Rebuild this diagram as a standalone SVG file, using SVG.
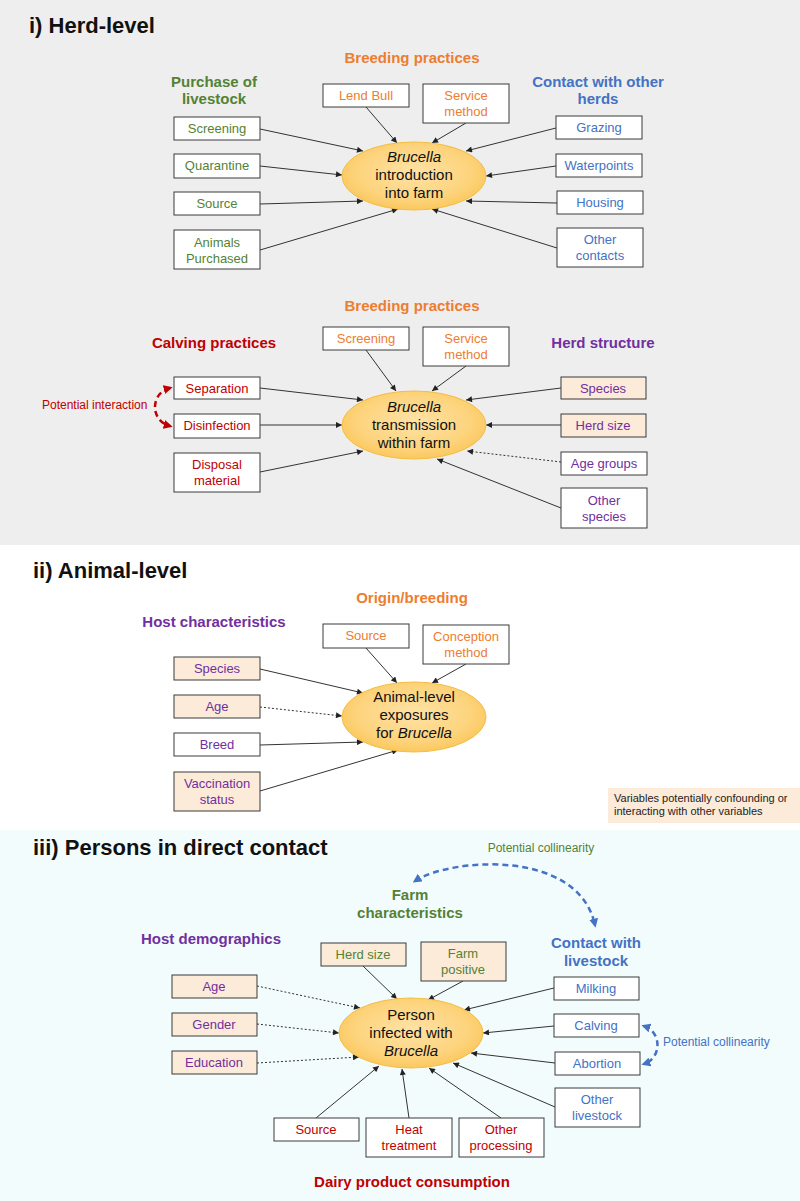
<svg xmlns="http://www.w3.org/2000/svg" width="800" height="1201" viewBox="0 0 800 1201">
<defs>
<radialGradient id="eg" cx="50%" cy="45%" r="55%">
<stop offset="0" stop-color="#FFE2A6"/>
<stop offset="0.7" stop-color="#FDD47E"/>
<stop offset="1" stop-color="#FBC85E"/>
</radialGradient>
<marker id="ah" viewBox="0 0 10 10" refX="10" refY="5" markerWidth="7" markerHeight="6" markerUnits="userSpaceOnUse" orient="auto"><path d="M0,0 L10,5 L0,10z" fill="#222"/></marker>
<marker id="ahr" viewBox="0 0 10 10" refX="7" refY="5" markerWidth="9" markerHeight="9" markerUnits="userSpaceOnUse" orient="auto-start-reverse"><path d="M0,0 L10,5 L0,10z" fill="#C00000"/></marker>
<marker id="ahb" viewBox="0 0 10 10" refX="7" refY="5" markerWidth="9" markerHeight="9" markerUnits="userSpaceOnUse" orient="auto-start-reverse"><path d="M0,0 L10,5 L0,10z" fill="#4472C4"/></marker>
<style>
text{font-family:"Liberation Sans",Arial,sans-serif;}
.title{font-size:22px;font-weight:bold;fill:#111;}
.hd{font-size:15px;font-weight:bold;text-anchor:middle;}
.bt{font-size:13px;text-anchor:middle;}
.et{font-size:15px;text-anchor:middle;fill:#111;}
.it{font-style:italic;}
.sm{font-size:12px;}
.box{fill:#fff;stroke:#3a3a3a;stroke-width:1;}
.boxb{fill:#FCEBD9;stroke:#3a3a3a;stroke-width:1;}
.ell{fill:url(#eg);stroke:#F3BE45;stroke-width:1;}
.or{fill:#ED7D31;}.gr{fill:#548235;}.bl{fill:#4472C4;}.rd{fill:#C00000;}.pu{fill:#7030A0;}
.c{stroke:#333;stroke-width:1;fill:none;marker-end:url(#ah);}
.d{stroke:#333;stroke-width:1;fill:none;stroke-dasharray:2,2;marker-end:url(#ah);}
.cr{stroke:#C00000;stroke-width:2.5;fill:none;stroke-dasharray:6,4;marker-start:url(#ahr);marker-end:url(#ahr);}
.cb{stroke:#4472C4;stroke-width:2.5;fill:none;stroke-dasharray:6,4;marker-start:url(#ahb);marker-end:url(#ahb);}
</style>
</defs>

<!-- backgrounds -->
<rect x="0" y="0" width="800" height="545" fill="#EEEEEE"/>
<rect x="0" y="545" width="800" height="285" fill="#FFFFFF"/>
<rect x="0" y="830" width="800" height="371" fill="#F3FCFD"/>

<!-- ===== Section i ===== -->
<text class="title" x="29" y="33">i) Herd-level</text>
<text class="hd or" x="412" y="63">Breeding practices</text>
<text class="hd gr" x="214" y="87">Purchase of</text>
<text class="hd gr" x="214" y="104">livestock</text>
<text class="hd bl" x="598" y="87">Contact with other</text>
<text class="hd bl" x="598" y="104">herds</text>

<g id="connectors">
<!-- i top -->
<line class="c" x1="366" y1="107" x2="397" y2="143"/>
<line class="c" x1="466" y1="123" x2="432" y2="143"/>
<line class="c" x1="260" y1="129" x2="363" y2="151"/>
<line class="c" x1="260" y1="166" x2="342" y2="175"/>
<line class="c" x1="260" y1="204" x2="363" y2="201"/>
<line class="c" x1="260" y1="250" x2="398" y2="209"/>
<line class="c" x1="556" y1="128" x2="466" y2="151"/>
<line class="c" x1="556" y1="166" x2="486" y2="176"/>
<line class="c" x1="557" y1="203" x2="466" y2="201"/>
<line class="c" x1="557" y1="248" x2="432" y2="209"/>
<!-- i bottom -->
<line class="c" x1="366" y1="350" x2="396" y2="391"/>
<line class="c" x1="466" y1="366" x2="432" y2="391"/>
<line class="c" x1="260" y1="388" x2="363" y2="400"/>
<line class="c" x1="260" y1="425" x2="342" y2="425"/>
<line class="c" x1="260" y1="472" x2="363" y2="451"/>
<line class="c" x1="561" y1="388" x2="466" y2="400"/>
<line class="c" x1="561" y1="425" x2="486" y2="425"/>
<line class="d" x1="561" y1="462" x2="467" y2="451"/>
<line class="c" x1="561" y1="508" x2="437" y2="459"/>
<path class="cr" d="M170,388 C150,393 150,421 170,426"/>
<!-- ii -->
<line class="c" x1="366" y1="648" x2="397" y2="683"/>
<line class="c" x1="466" y1="664" x2="432" y2="683"/>
<line class="c" x1="260" y1="669" x2="363" y2="693"/>
<line class="d" x1="260" y1="707" x2="342" y2="716"/>
<line class="c" x1="260" y1="745" x2="363" y2="742"/>
<line class="c" x1="260" y1="791" x2="398" y2="750"/>
<!-- iii -->
<line class="c" x1="363" y1="966" x2="397" y2="999"/>
<line class="c" x1="463" y1="981" x2="428" y2="1000"/>
<line class="c" x1="554" y1="988" x2="464" y2="1010"/>
<line class="c" x1="554" y1="1026" x2="483" y2="1033"/>
<line class="c" x1="555" y1="1063" x2="471" y2="1053"/>
<line class="c" x1="555" y1="1107" x2="453" y2="1063"/>
<line class="d" x1="257" y1="986" x2="360" y2="1008"/>
<line class="d" x1="257" y1="1024" x2="339" y2="1033"/>
<line class="d" x1="257" y1="1063" x2="359" y2="1057"/>
<line class="c" x1="316" y1="1118" x2="379" y2="1066"/>
<line class="c" x1="409" y1="1118" x2="402" y2="1069"/>
<line class="c" x1="501" y1="1118" x2="429" y2="1068"/>
<path class="cb" d="M415,881 C450,858 578,848 595,925"/>
<path class="cb" d="M644,1026 C662,1032 662,1058 644,1064"/>
</g>

<g id="n-intro"><ellipse class="ell" cx="414" cy="176" rx="72" ry="34"/>
<text class="et it" x="414" y="162">Brucella</text><text class="et" x="414" y="180">introduction</text><text class="et" x="414" y="198">into farm</text></g>
<g id="n-lendbull"><rect class="box" x="323" y="84" width="86" height="23"/><text class="bt or" x="366" y="100">Lend Bull</text></g>
<g id="n-service1"><rect class="box" x="423" y="84" width="86" height="39"/><text class="bt or" x="466" y="100">Service</text><text class="bt or" x="466" y="116">method</text></g>
<g id="n-screening1"><rect class="box" x="174" y="117" width="86" height="23"/><text class="bt gr" x="217" y="133">Screening</text></g>
<g id="n-quarantine"><rect class="box" x="174" y="154" width="86" height="24"/><text class="bt gr" x="217" y="170">Quarantine</text></g>
<g id="n-source1"><rect class="box" x="174" y="192" width="86" height="23"/><text class="bt gr" x="217" y="208">Source</text></g>
<g id="n-animals"><rect class="box" x="174" y="230" width="86" height="39"/><text class="bt gr" x="217" y="247">Animals</text><text class="bt gr" x="217" y="263">Purchased</text></g>
<g id="n-grazing"><rect class="box" x="556" y="116" width="86" height="23"/><text class="bt bl" x="599" y="132">Grazing</text></g>
<g id="n-waterpoints"><rect class="box" x="556" y="154" width="86" height="23"/><text class="bt bl" x="599" y="170">Waterpoints</text></g>
<g id="n-housing"><rect class="box" x="557" y="191" width="86" height="23"/><text class="bt bl" x="600" y="207">Housing</text></g>
<g id="n-othercontacts"><rect class="box" x="557" y="228" width="86" height="39"/><text class="bt bl" x="600" y="244">Other</text><text class="bt bl" x="600" y="260">contacts</text></g>

<text class="hd or" x="412" y="311">Breeding practices</text>
<text class="hd rd" x="214" y="348">Calving practices</text>
<text class="hd pu" x="603" y="348">Herd structure</text>
<text class="sm rd" x="42" y="409">Potential interaction</text>

<g id="n-transmission"><ellipse class="ell" cx="414" cy="425" rx="72" ry="34"/>
<text class="et it" x="414" y="412">Brucella</text><text class="et" x="414" y="430">transmission</text><text class="et" x="414" y="448">within farm</text></g>
<g id="n-screening2"><rect class="box" x="323" y="327" width="86" height="23"/><text class="bt or" x="366" y="343">Screening</text></g>
<g id="n-service2"><rect class="box" x="423" y="327" width="86" height="39"/><text class="bt or" x="466" y="343">Service</text><text class="bt or" x="466" y="359">method</text></g>
<g id="n-separation"><rect class="box" x="174" y="377" width="86" height="22"/><text class="bt rd" x="217" y="393">Separation</text></g>
<g id="n-disinfection"><rect class="box" x="174" y="414" width="86" height="24"/><text class="bt rd" x="217" y="430">Disinfection</text></g>
<g id="n-disposal"><rect class="box" x="174" y="453" width="86" height="39"/><text class="bt rd" x="217" y="469">Disposal</text><text class="bt rd" x="217" y="485">material</text></g>
<g id="n-species1"><rect class="boxb" x="561" y="377" width="85" height="22"/><text class="bt pu" x="603" y="393">Species</text></g>
<g id="n-herdsize1"><rect class="boxb" x="561" y="414" width="85" height="23"/><text class="bt pu" x="603" y="430">Herd size</text></g>
<g id="n-agegroups"><rect class="box" x="561" y="452" width="86" height="23"/><text class="bt pu" x="604" y="468">Age groups</text></g>
<g id="n-otherspecies"><rect class="box" x="561" y="488" width="86" height="40"/><text class="bt pu" x="604" y="505">Other</text><text class="bt pu" x="604" y="521">species</text></g>

<!-- ===== Section ii ===== -->
<text class="title" x="33" y="578">ii) Animal-level</text>
<text class="hd or" x="412" y="603">Origin/breeding</text>
<text class="hd pu" x="214" y="627">Host characteristics</text>

<g id="n-animal"><ellipse class="ell" cx="414" cy="717" rx="72" ry="35"/>
<text class="et" x="414" y="702">Animal-level</text><text class="et" x="414" y="720">exposures</text><text class="et" x="414" y="738">for <tspan class="it">Brucella</tspan></text></g>
<g id="n-source2"><rect class="box" x="323" y="624" width="86" height="24"/><text class="bt or" x="366" y="640">Source</text></g>
<g id="n-conception"><rect class="box" x="423" y="625" width="86" height="39"/><text class="bt or" x="466" y="641">Conception</text><text class="bt or" x="466" y="657">method</text></g>
<g id="n-species2"><rect class="boxb" x="174" y="657" width="86" height="23"/><text class="bt pu" x="217" y="673">Species</text></g>
<g id="n-age2"><rect class="boxb" x="174" y="695" width="86" height="23"/><text class="bt pu" x="217" y="711">Age</text></g>
<g id="n-breed"><rect class="box" x="174" y="733" width="86" height="23"/><text class="bt pu" x="217" y="749">Breed</text></g>
<g id="n-vaccination"><rect class="boxb" x="174" y="772" width="86" height="39"/><text class="bt pu" x="217" y="788">Vaccination</text><text class="bt pu" x="217" y="804">status</text></g>

<g id="legend"><rect x="608" y="788" width="192" height="35" fill="#FCEBD9"/>
<text x="614" y="802" font-size="11" fill="#222">Variables potentially confounding or</text>
<text x="614" y="815" font-size="11" fill="#222">interacting with other variables</text></g>

<!-- ===== Section iii ===== -->
<text class="title" x="33" y="855">iii) Persons in direct contact</text>
<text class="sm gr" x="541" y="852" text-anchor="middle">Potential collinearity</text>
<text class="hd gr" x="410" y="900">Farm</text>
<text class="hd gr" x="410" y="918">characteristics</text>
<text class="hd bl" x="596" y="948">Contact with</text>
<text class="hd bl" x="596" y="966">livestock</text>
<text class="hd pu" x="211" y="944">Host demographics</text>
<text class="sm bl" x="663" y="1046">Potential collinearity</text>
<text class="hd rd" x="412" y="1187">Dairy product consumption</text>

<g id="n-person"><ellipse class="ell" cx="411" cy="1033" rx="72" ry="35"/>
<text class="et" x="411" y="1020">Person</text><text class="et" x="411" y="1038">infected with</text><text class="et it" x="411" y="1056">Brucella</text></g>
<g id="n-herdsize3"><rect class="boxb" x="321" y="943" width="85" height="23"/><text class="bt gr" x="363" y="959">Herd size</text></g>
<g id="n-farmpositive"><rect class="boxb" x="421" y="942" width="85" height="39"/><text class="bt gr" x="463" y="958">Farm</text><text class="bt gr" x="463" y="974">positive</text></g>
<g id="n-milking"><rect class="box" x="554" y="977" width="85" height="23"/><text class="bt bl" x="596" y="993">Milking</text></g>
<g id="n-calving"><rect class="box" x="554" y="1014" width="85" height="23"/><text class="bt bl" x="596" y="1030">Calving</text></g>
<g id="n-abortion"><rect class="box" x="555" y="1052" width="85" height="23"/><text class="bt bl" x="597" y="1068">Abortion</text></g>
<g id="n-otherlivestock"><rect class="box" x="555" y="1088" width="85" height="39"/><text class="bt bl" x="597" y="1104">Other</text><text class="bt bl" x="597" y="1120">livestock</text></g>
<g id="n-age3"><rect class="boxb" x="172" y="975" width="85" height="23"/><text class="bt pu" x="214" y="991">Age</text></g>
<g id="n-gender"><rect class="boxb" x="172" y="1013" width="85" height="23"/><text class="bt pu" x="214" y="1029">Gender</text></g>
<g id="n-education"><rect class="boxb" x="172" y="1051" width="85" height="23"/><text class="bt pu" x="214" y="1067">Education</text></g>
<g id="n-source3"><rect class="box" x="274" y="1118" width="85" height="23"/><text class="bt rd" x="316" y="1134">Source</text></g>
<g id="n-heat"><rect class="box" x="366" y="1118" width="86" height="39"/><text class="bt rd" x="409" y="1134">Heat</text><text class="bt rd" x="409" y="1150">treatment</text></g>
<g id="n-otherprocessing"><rect class="box" x="459" y="1118" width="85" height="39"/><text class="bt rd" x="501" y="1134">Other</text><text class="bt rd" x="501" y="1150">processing</text></g>
</svg>
